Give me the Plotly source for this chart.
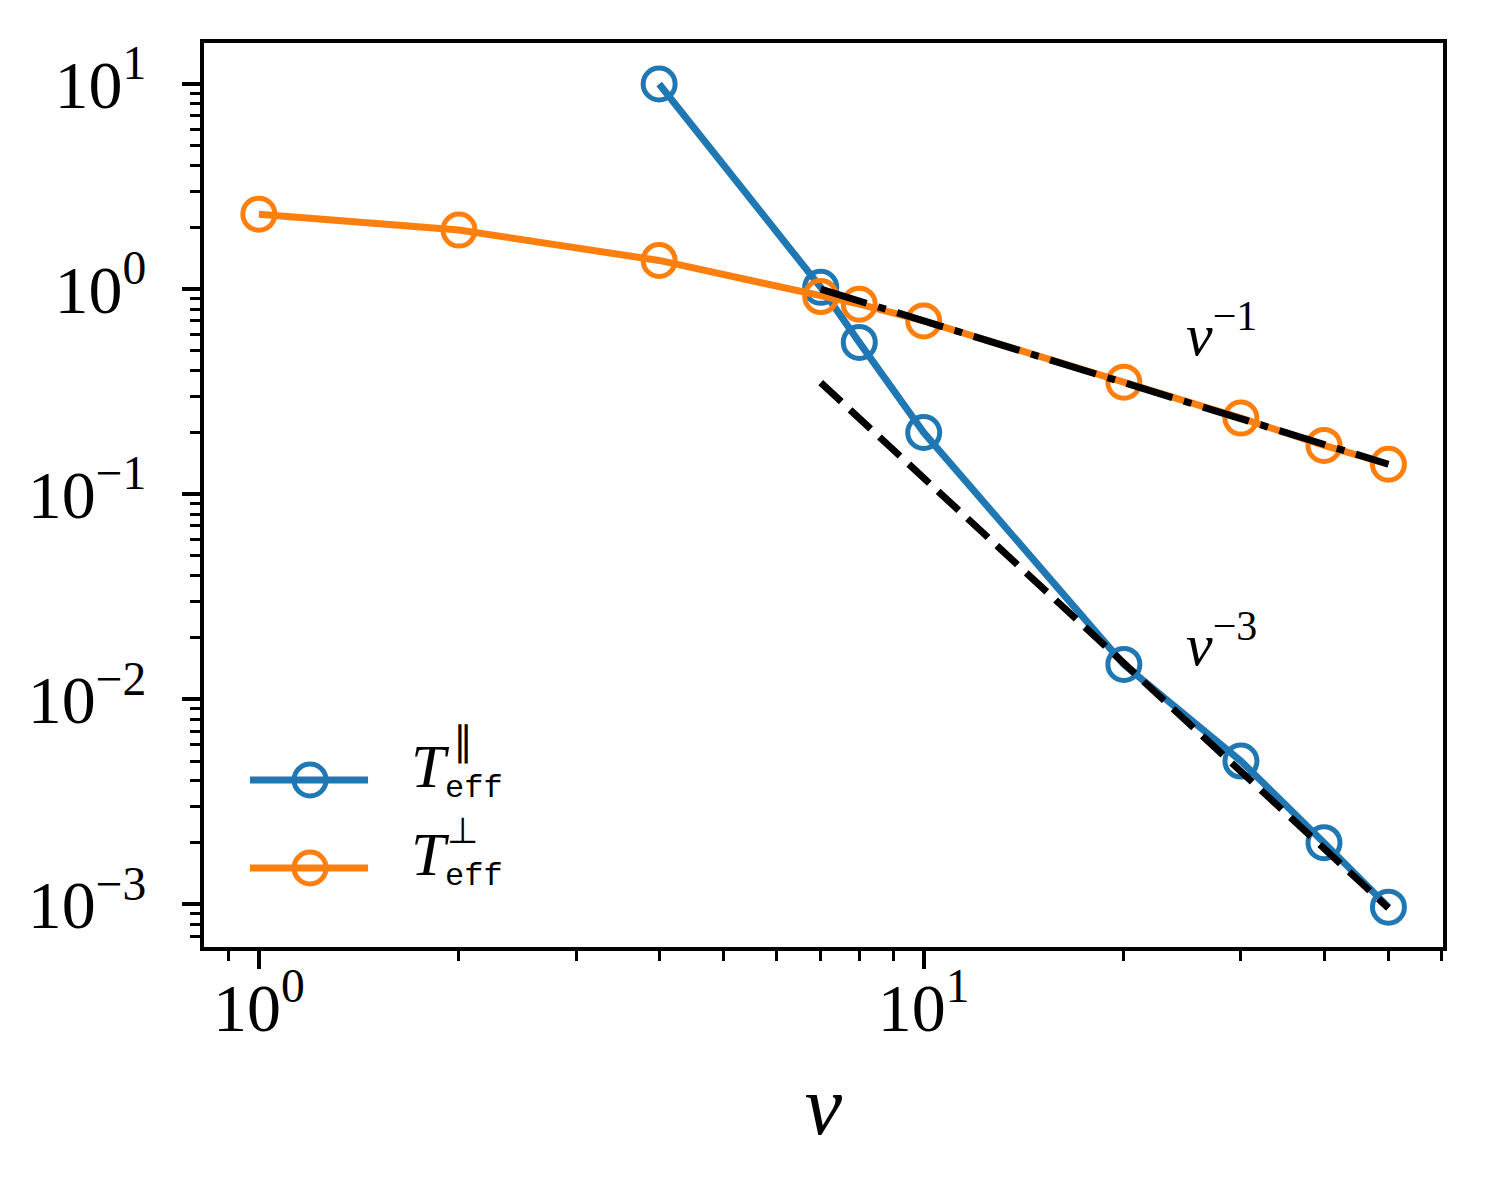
import numpy as np
import plotly.graph_objects as go

# ---- data ----
v = [1, 2, 4, 7, 8, 10, 20, 30, 40, 50]
v_par = [4, 7, 8, 10, 20, 30, 40, 50]
T_par = [10.0, 1.02, 0.55, 0.20, 0.0148, 0.0050, 0.0020, 0.00097]
T_perp = [2.32, 1.94, 1.38, 0.92, 0.845, 0.70, 0.352, 0.235, 0.173, 0.140]

ref_v = [7, 50]
ref_m1 = [7.0 / x for x in ref_v]        # v^-1 guide
ref_m3 = [120.0 / x**3 for x in ref_v]   # v^-3 guide

ytick_vals = [1e-3, 1e-2, 1e-1, 1e0, 1e1]
ytick_text = ["10<sup>−3</sup>", "10<sup>−2</sup>", "10<sup>−1</sup>",
              "10<sup>0</sup>", "10<sup>1</sup>"]
xtick_vals = [1, 10]
xtick_text = ["10<sup>0</sup>", "10<sup>1</sup>"]

legend_names = ["∥", "⊥"]

BLUE = "#1f77b4"
ORANGE = "#ff7f0e"
FONT = "Liberation Serif"
MONO = "Liberation Mono"

fig = go.Figure()
fig.add_trace(go.Scatter(
    x=v_par, y=T_par, mode="lines+markers", name="T_eff par", showlegend=False,
    line=dict(color=BLUE, width=7),
    marker=dict(symbol="circle-open", size=32, line=dict(color=BLUE, width=5)),
))
fig.add_trace(go.Scatter(
    x=v, y=T_perp, mode="lines+markers", name="T_eff perp", showlegend=False,
    line=dict(color=ORANGE, width=7),
    marker=dict(symbol="circle-open", size=32, line=dict(color=ORANGE, width=5)),
))
fig.add_trace(go.Scatter(
    x=ref_v, y=ref_m1, mode="lines", showlegend=False,
    line=dict(color="black", width=7, dash="48px,12px,8px,12px"),
))
fig.add_trace(go.Scatter(
    x=ref_v, y=ref_m3, mode="lines", showlegend=False,
    line=dict(color="black", width=7, dash="28px,12px"),
))

fig.add_annotation(x=np.log10(28.0), y=np.log10(0.63), xref="x", yref="y",
                   text="<i>v</i><sup>−1</sup>", showarrow=False,
                   font=dict(family=FONT, size=60, color="black"))
fig.add_annotation(x=np.log10(28.0), y=np.log10(0.0194), xref="x", yref="y",
                   text="<i>v</i><sup>−3</sup>", showarrow=False,
                   font=dict(family=FONT, size=60, color="black"))

# ---- hand-drawn legend (long line + full-size marker, like the reference) ----
leg_y = [0.1847, 0.0874]
leg_cols = [BLUE, ORANGE]
for yy, col, sym, dy_sym, sz in zip(leg_y, leg_cols, legend_names,
                                    [0.043, 0.041], [40, 36]):
    fig.add_shape(type="line", xref="paper", yref="paper",
                  x0=0.0371, x1=0.1324, y0=yy, y1=yy,
                  line=dict(color=col, width=7))
    fig.add_shape(type="circle", xref="paper", yref="paper",
                  xsizemode="pixel", ysizemode="pixel",
                  xanchor=0.0856, yanchor=yy, x0=-16, x1=16, y0=-16, y1=16,
                  line=dict(color=col, width=5))
    fig.add_annotation(x=0.1655, y=yy + 0.0150, xref="paper", yref="paper",
                       xanchor="left", yanchor="middle", showarrow=False,
                       text="<i>T</i>", font=dict(family=FONT, size=62, color="black"))
    fig.add_annotation(x=0.1929, y=yy - 0.009, xref="paper", yref="paper",
                       xanchor="left", yanchor="middle", showarrow=False,
                       text="eff", font=dict(family=MONO, size=32, color="black"))
    fig.add_annotation(x=0.2090, y=yy + dy_sym, xref="paper", yref="paper",
                       xanchor="center", yanchor="middle", showarrow=False,
                       text=sym, font=dict(family=FONT, size=sz, color="black"))

axis_common = dict(
    type="log", showgrid=False, zeroline=False,
    showline=True, linecolor="black", linewidth=4, mirror=True,
    ticks="outside", ticklen=18, tickwidth=4, tickcolor="black",
    tickfont=dict(family=FONT, size=68, color="black"),
    minor=dict(ticks="outside", ticklen=10, tickwidth=3, tickcolor="black",
               dtick="D1", showgrid=False),
)

fig.update_xaxes(**axis_common, range=[np.log10(0.827), np.log10(60.4)],
                 tickvals=xtick_vals, ticktext=xtick_text,
                 ticklabelstandoff=-20,
                 title=dict(text="<i>v</i>", font=dict(family=FONT, size=84, color="black"),
                            standoff=32))
fig.update_yaxes(**axis_common, range=[np.log10(6.2e-4), np.log10(15.85)],
                 tickvals=ytick_vals, ticktext=ytick_text,
                 ticklabelstandoff=22)

fig.update_layout(
    width=1487, height=1195,
    margin=dict(l=196, r=52, t=35, b=256, autoexpand=False),
    paper_bgcolor="white", plot_bgcolor="white",
    font=dict(family=FONT, color="black"),
    showlegend=False,
)

fig.write_html("out.html")
